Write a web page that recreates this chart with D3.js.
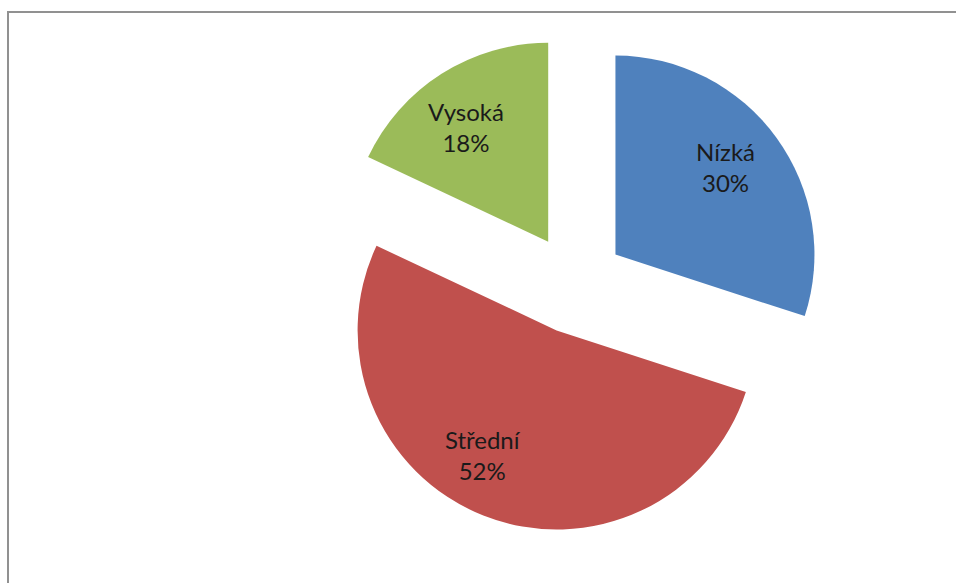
<!DOCTYPE html>
<html>
<head>
<meta charset="utf-8">
<script src="https://cdn.jsdelivr.net/npm/d3@7"></script>
<style>
  html, body { margin: 0; padding: 0; background: #fff; }
  svg { display: block; }
</style>
</head>
<body>
<svg id="chart" width="956" height="583"></svg>
<script>
// Category shares (percent), in clockwise order from 12 o'clock
const categories = ["Nízká", "Střední", "Vysoká"];
const values = [30, 52, 18];
const colors = ["#4F81BD", "#C0504D", "#9BBB59"];

const W = 956, H = 583;
const cx = 575, cy = 284;       // pie centre before explosion
const radius = 199;
const explode = 50;             // distance each slice is pulled out
const labelR = 0.715 * radius;
// small per-label adjustments so the text sits comfortably inside its slice
const labelShift = { "Nízká": [-5, -3], "Střední": [-22, -7], "Vysoká": [-6, 6] };

const svg = d3.select("#chart");

// chart frame (runs off the right and bottom edges)
svg.append("rect")
  .attr("x", 8).attr("y", 12)
  .attr("width", W + 20).attr("height", H + 20)
  .attr("fill", "#fff")
  .attr("stroke", "#919191")
  .attr("stroke-width", 2);

const pie = d3.pie().sort(null).value(d => d.value);
const data = pie(categories.map((c, i) => ({ name: c, value: values[i], color: colors[i] })));

const arc = d3.arc().innerRadius(0).outerRadius(radius);
const total = d3.sum(values);

const g = svg.append("g").attr("transform", `translate(${cx},${cy})`);

const slices = g.selectAll("g.slice")
  .data(data)
  .join("g")
  .attr("class", "slice")
  .attr("transform", d => {
    const a = (d.startAngle + d.endAngle) / 2;
    return `translate(${explode * Math.sin(a)},${-explode * Math.cos(a)})`;
  });

slices.append("path")
  .attr("d", arc)
  .attr("fill", d => d.data.color);

const fmt = d3.format(".0%");
const labels = slices.append("text")
  .attr("text-anchor", "middle")
  .attr("font-family", "Lato, 'Open Sans', sans-serif")
  .attr("font-size", 24)
  .attr("fill", "#1a1a1a")
  .attr("transform", d => {
    const a = (d.startAngle + d.endAngle) / 2;
    const s = labelShift[d.data.name] || [0, 0];
    return `translate(${labelR * Math.sin(a) + s[0]},${-labelR * Math.cos(a) + s[1]})`;
  });

labels.append("tspan")
  .attr("x", 0).attr("dy", -7)
  .text(d => d.data.name);
labels.append("tspan")
  .attr("x", 0).attr("dy", 31)
  .text(d => fmt(d.data.value / total));
</script>
</body>
</html>
